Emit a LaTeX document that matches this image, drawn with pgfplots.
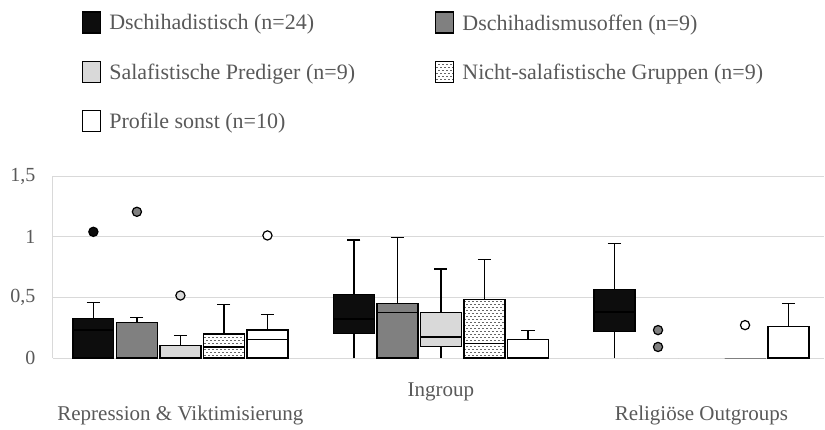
\documentclass[border=0pt]{standalone}
\usepackage{pgfplots}
\pgfplotsset{compat=1.18}
\usepgfplotslibrary{statistics}
\usetikzlibrary{patterns}
\usepackage{fontspec}
\setmainfont{Liberation Serif}
\definecolor{txt}{HTML}{595959}
\definecolor{gridc}{HTML}{D9D9D9}
\definecolor{cA}{HTML}{0D0D0D}
\definecolor{cB}{HTML}{808080}
\definecolor{cC}{HTML}{D9D9D9}
\pgfdeclarepatternformonly{smalldash}{\pgfqpoint{-0.5pt}{-0.5pt}}{\pgfqpoint{4.5pt}{6.5pt}}{\pgfqpoint{4pt}{6pt}}{%
  \pgfsetlinewidth{0.9pt}%
  \pgfpathmoveto{\pgfqpoint{0.3pt}{1.5pt}}%
  \pgfpathlineto{\pgfqpoint{2.3pt}{1.5pt}}%
  \pgfpathmoveto{\pgfqpoint{2.3pt}{4.5pt}}%
  \pgfpathlineto{\pgfqpoint{4.3pt}{4.5pt}}%
  \pgfusepath{stroke}}
\pgfplotsset{
  boxplot/draw direction=y,
  boxplot/every whisker/.style={line width=1.3pt, draw=black},
  boxplot/every box/.style={line width=1.3pt},
  boxplot/every median/.style={line width=1.3pt},
  boxplot/draw/lower whisker/.code={%
    \draw[/pgfplots/boxplot/every whisker/.try]
      (boxplot box cs:\pgfplotsboxplotvalue{lower whisker},0.5)
      -- (boxplot box cs:\pgfplotsboxplotvalue{lower quartile},0.5);},
  bx/.style={forget plot, boxplot/draw direction=y, boxplot/box extend=0.157, boxplot/whisker extend=0.05,
    line width=1.3pt, mark=*, mark size=4.6pt},
  sA/.style={bx, draw=black, fill=cA, mark options={draw=black, fill=cA, line width=1.2pt}},
  sB/.style={bx, draw=black, fill=cB, mark options={draw=black, fill=cB, line width=1.2pt}},
  sC/.style={bx, draw=black, fill=cC, mark options={draw=black, fill=cC, line width=1.2pt}},
  sD/.style={bx, draw=black, pattern=smalldash, pattern color=black!60, mark options={draw=black, fill=white, line width=1.2pt}},
  sE/.style={bx, draw=black, fill=white, mark options={draw=black, fill=white, line width=1.2pt}},
}
\begin{document}
\begin{tikzpicture}
\useasboundingbox (0,0) rectangle (825pt,429pt);
\begin{axis}[
  at={(53pt,71pt)}, anchor=south west,
  scale only axis, width=771pt, height=182pt,
  xmin=-0.489, xmax=2.47, ymin=0, ymax=1.5,
  clip=false,
  axis line style={draw=none},
  major tick length=0pt,
  ytick={0,0.5,1,1.5},
  ymajorgrids, grid style={color=gridc, line width=1pt},
  yticklabel style={font=\fontsize{20}{24}\selectfont, text=txt, xshift=-14pt,
    /pgf/number format/.cd, use comma, assume math mode=true},
  xtick={1}, xticklabels={Ingroup},
  extra x ticks={0,2},
  extra x tick labels={Repression \& Viktimisierung, Religiöse Outgroups},
  extra x tick style={xticklabel style={yshift=-23pt}},
  xticklabel style={font=\fontsize{21}{25}\selectfont, text=txt, yshift=-21pt},
  legend style={at={(axis description cs:0.0376,1.905)}, anchor=north west,
    draw=none, fill=none, inner sep=0pt,
    font=\fontsize{22}{26}\selectfont, text=txt,
    nodes={inner sep=3pt}, row sep=26pt, column sep=0pt,
    /tikz/every odd column/.append style={column sep=5pt}},
  legend columns=2, legend cell align=left,
]
\draw[gridc, line width=1pt] (rel axis cs:0,0) -- (rel axis cs:0,1);
\addlegendimage{legend image code/.code={\draw[draw=black,fill=cA,line width=1.1pt] (0pt,-10pt) rectangle (18pt,11pt);}}
\addlegendentry{\makebox[323pt][l]{Dschihadistisch (n=24)}}
\addlegendimage{legend image code/.code={\draw[draw=black,fill=cB,line width=1.1pt] (0pt,-10pt) rectangle (18pt,11pt);}}
\addlegendentry{Dschihadismusoffen (n=9)}
\addlegendimage{legend image code/.code={\draw[draw=black,fill=cC,line width=1.1pt] (0pt,-10pt) rectangle (18pt,11pt);}}
\addlegendentry{\makebox[323pt][l]{Salafistische Prediger (n=9)}}
\addlegendimage{legend image code/.code={\draw[draw=black,pattern=smalldash,pattern color=black!60,line width=1.1pt] (0pt,-10pt) rectangle (18pt,11pt);}}
\addlegendentry{Nicht-salafistische Gruppen (n=9)}
\addlegendimage{legend image code/.code={\draw[draw=black,fill=white,line width=1.1pt] (0pt,-10pt) rectangle (18pt,11pt);}}
\addlegendentry{\makebox[323pt][l]{Profile sonst (n=10)}}

% Repression & Viktimisierung
\addplot[sA, boxplot prepared={draw position=-0.334, lower whisker=0, lower quartile=0, median=0.23, upper quartile=0.327, upper whisker=0.457}] table[row sep=\\, y index=0] {1.04\\};
\addplot[sB, boxplot prepared={draw position=-0.167, lower whisker=0, lower quartile=0, median=0, upper quartile=0.29, upper whisker=0.332}] table[row sep=\\, y index=0] {1.205\\};
\addplot[sC, boxplot prepared={draw position=0, lower whisker=0, lower quartile=0, median=0, upper quartile=0.105, upper whisker=0.183}] table[row sep=\\, y index=0] {0.515\\};
\addplot[sD, boxplot prepared={draw position=0.167, lower whisker=0, lower quartile=0, median=0.091, upper quartile=0.197, upper whisker=0.44}] coordinates {};
\addplot[sE, boxplot prepared={draw position=0.334, lower whisker=0, lower quartile=0, median=0.152, upper quartile=0.23, upper whisker=0.357}] table[row sep=\\, y index=0] {1.01\\};

% Ingroup
\addplot[sA, boxplot prepared={draw position=0.666, lower whisker=0, lower quartile=0.202, median=0.321, upper quartile=0.526, upper whisker=0.972}] coordinates {};
\addplot[sB, boxplot prepared={draw position=0.833, lower whisker=0, lower quartile=0, median=0.374, upper quartile=0.452, upper whisker=0.994}] coordinates {};
\addplot[sC, boxplot prepared={draw position=1, lower whisker=0, lower quartile=0.097, median=0.172, upper quartile=0.374, upper whisker=0.734}] coordinates {};
\addplot[sD, boxplot prepared={draw position=1.167, lower whisker=0, lower quartile=0, median=0.119, upper quartile=0.482, upper whisker=0.81}] coordinates {};
\addplot[sE, boxplot prepared={draw position=1.334, lower whisker=0, lower quartile=0, median=0, upper quartile=0.152, upper whisker=0.227}] coordinates {};

% Religiöse Outgroups
\addplot[sA, boxplot prepared={draw position=1.666, lower whisker=0, lower quartile=0.216, median=0.38, upper quartile=0.562, upper whisker=0.942}] coordinates {};
\addplot[sB, draw=gridc, line width=1pt, boxplot/every box/.style={line width=1pt}, boxplot/every median/.style={line width=1pt}, boxplot/every whisker/.style={draw=none}, boxplot prepared={draw position=1.833, lower whisker=0, lower quartile=0, median=0, upper quartile=0, upper whisker=0}] table[row sep=\\, y index=0] {0.23\\0.091\\};
\addplot[sC, draw=gridc, line width=1pt, boxplot/every box/.style={line width=1pt}, boxplot/every median/.style={line width=1pt}, boxplot/every whisker/.style={draw=none}, boxplot prepared={draw position=2, lower whisker=0, lower quartile=0, median=0, upper quartile=0, upper whisker=0}] coordinates {};
\addplot[sD, draw=gray, line width=1pt, boxplot/every box/.style={line width=1pt}, boxplot/every median/.style={line width=1pt}, boxplot/every whisker/.style={draw=none}, boxplot prepared={draw position=2.167, lower whisker=0, lower quartile=0, median=0, upper quartile=0, upper whisker=0}] table[row sep=\\, y index=0] {0.271\\};
\addplot[sE, boxplot prepared={draw position=2.334, lower whisker=0, lower quartile=0, median=0, upper quartile=0.258, upper whisker=0.449}] coordinates {};
\end{axis}
\end{tikzpicture}
\end{document}
